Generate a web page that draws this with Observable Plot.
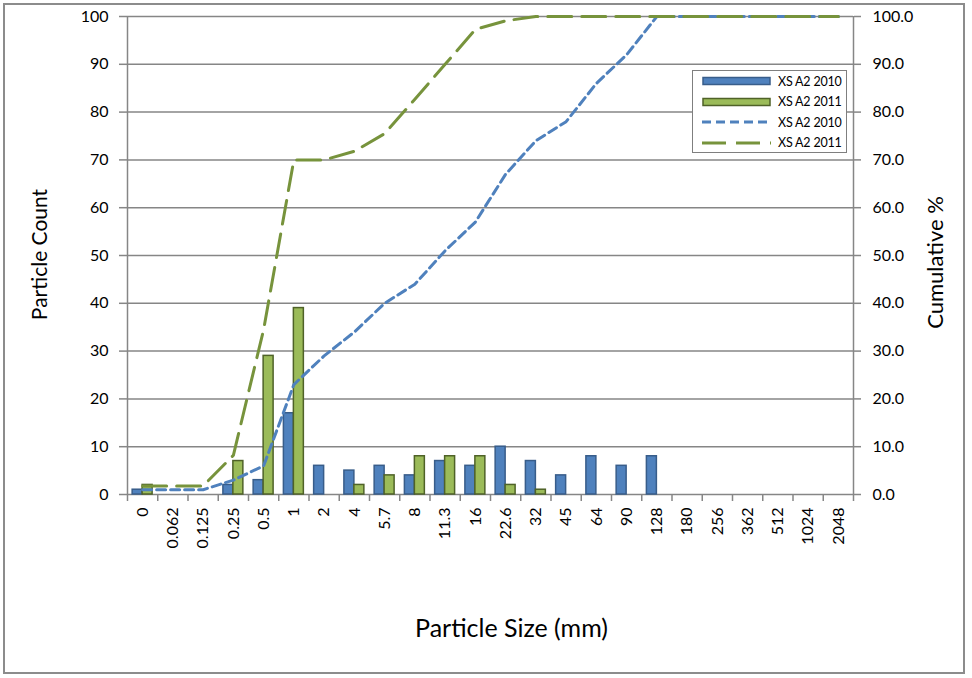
<!DOCTYPE html>
<html>
<head>
<meta charset="utf-8">
<script src="https://cdn.jsdelivr.net/npm/d3@7"></script>
<script src="https://cdn.jsdelivr.net/npm/@observablehq/plot@0.6"></script>
<style>
  html, body { margin: 0; padding: 0; background: #fff; }
  #wrap { position: relative; width: 972px; height: 678px; overflow: hidden; font-family: Lato, "Open Sans", sans-serif; }
  #chart { position: absolute; left: 0; top: 0; }
  #border { position: absolute; left: 3px; top: 3px; width: 962px; height: 671px; box-sizing: border-box; border: 2px solid #8c8c8c; pointer-events: none; }
  #legend { position: absolute; left: 692px; top: 70px; width: 155px; height: 83px; box-sizing: border-box; border: 1px solid #7f7f7f; background: #fff; padding-top: 0px; }
  .row { display: flex; align-items: center; height: 20.5px; }
  .row svg { margin-left: 9px; margin-right: 7px; }
  .row span { font-size: 12.5px; color: #000; white-space: nowrap; letter-spacing: -0.2px; }
</style>
</head>
<body>
<div id="wrap">
  <div id="chart"></div>
  <div id="border"></div>
  <div id="legend"></div>
</div>
<script>
const categories = ["0","0.062","0.125","0.25","0.5","1","2","4","5.7","8","11.3","16","22.6","32","45","64","90","128","180","256","362","512","1024","2048"];
const count2010 = [1,0,0,2,3,17,6,5,6,4,7,6,10,7,4,8,6,8,0,0,0,0,0,0];
const count2011 = [2,0,0,7,29,39,0,2,4,8,8,8,2,1,0,0,0,0,0,0,0,0,0,0];
const cum2010 = [1,1,1,3,6,23,29,34,40,44,51,57,67,74,78,86,92,100,100,100,100,100,100,100];
const cum2011 = [1.8,1.8,1.8,8.2,34.5,70,70,71.8,75.5,82.7,90,97.3,99.1,100,100,100,100,100,100,100,100,100,100,100];
const yTicks = [0,10,20,30,40,50,60,70,80,90,100];
const seriesNames = ["XS A2 2010","XS A2 2011","XS A2 2010","XS A2 2011"];

const blueFill = "#4f81bd", blueStroke = "#385d8a";
const greenFill = "#9bbb59", greenStroke = "#4f6228";
const blueLine = "#4f81bd", greenLine = "#77933c";
const grid = "#868686";

const rows = categories.map((c, i) => ({i, c, a: count2010[i], b: count2011[i], ca: cum2010[i], cb: cum2011[i]}));
const indices = categories.map((c, i) => i);
const boundaries = d3.range(categories.length + 1).map(k => k - 0.5);
const bw = 0.33;

const chart = Plot.plot({
  width: 972, height: 678,
  marginLeft: 127, marginRight: 119, marginTop: 16, marginBottom: 184,
  x: {type: "linear", domain: [-0.5, categories.length - 0.5], axis: null},
  y: {domain: [0, 100], axis: null},
  style: {fontFamily: "Lato, 'Open Sans', sans-serif", fontSize: "16px", color: "#000", background: "transparent", overflow: "visible"},
  marks: [
    Plot.ruleY(yTicks, {stroke: grid, strokeWidth: 1.5}),
    Plot.ruleX([boundaries[0], boundaries[boundaries.length - 1]], {stroke: grid, strokeWidth: 1.5}),
    Plot.axisY({anchor: "left", ticks: yTicks, tickSize: 8, tickPadding: 11, stroke: grid, strokeWidth: 1.5, label: null, fontSize: 16}),
    Plot.axisY({anchor: "right", ticks: yTicks, tickSize: 7, tickPadding: 12, stroke: grid, strokeWidth: 1.5, label: null, tickFormat: d => d.toFixed(1), fontSize: 16}),
    Plot.axisX({anchor: "bottom", ticks: boundaries, tickSize: 7, stroke: grid, strokeWidth: 1.5, tickFormat: () => "", label: null}),
    Plot.axisX({anchor: "bottom", ticks: indices, tickSize: 0, tickPadding: 13, tickRotate: -90, tickFormat: i => categories[i], label: null, fontSize: 16}),
    Plot.rect(rows.filter(d => d.a > 0), {x1: d => d.i - bw, x2: d => d.i, y1: d => 0, y2: "a", fill: blueFill, stroke: blueStroke, strokeWidth: 1.5}),
    Plot.rect(rows.filter(d => d.b > 0), {x1: d => d.i, x2: d => d.i + bw, y1: d => 0, y2: "b", fill: greenFill, stroke: greenStroke, strokeWidth: 1.5}),
    Plot.line(rows, {x: "i", y: "ca", stroke: blueLine, strokeWidth: 3, strokeDasharray: "9,5"}),
    Plot.line(rows, {x: "i", y: "cb", stroke: greenLine, strokeWidth: 3, strokeDasharray: "24,10"}),
    Plot.text(["Particle Count"], {frameAnchor: "left", textAnchor: "middle", dx: -87, dy: -1, rotate: -90, fontSize: 21}),
    Plot.text(["Cumulative %"], {frameAnchor: "right", textAnchor: "middle", dx: 82, dy: 7, rotate: -90, fontSize: 22}),
    Plot.text(["Particle Size (mm)"], {frameAnchor: "bottom", textAnchor: "middle", dx: 21, dy: 142, fontSize: 25})
  ]
});
document.getElementById("chart").appendChild(chart);

// legend
const legend = d3.select("#legend");
const swatches = [
  {type: "bar", fill: blueFill, stroke: blueStroke},
  {type: "bar", fill: greenFill, stroke: greenStroke},
  {type: "line", stroke: blueLine, dash: "9,5"},
  {type: "line", stroke: greenLine, dash: "24,10"}
];
swatches.forEach((s, k) => {
  const row = legend.append("div").attr("class", "row");
  const svg = row.append("svg").attr("width", 69).attr("height", 12);
  if (s.type === "bar") {
    svg.append("rect").attr("x", 1).attr("y", 2.5).attr("width", 67).attr("height", 7)
      .attr("fill", s.fill).attr("stroke", s.stroke).attr("stroke-width", 1.5);
  } else {
    svg.append("line").attr("x1", 0).attr("x2", 69).attr("y1", 6).attr("y2", 6)
      .attr("stroke", s.stroke).attr("stroke-width", 3).attr("stroke-dasharray", s.dash);
  }
  row.append("span").text(seriesNames[k]);
});
</script>
</body>
</html>
